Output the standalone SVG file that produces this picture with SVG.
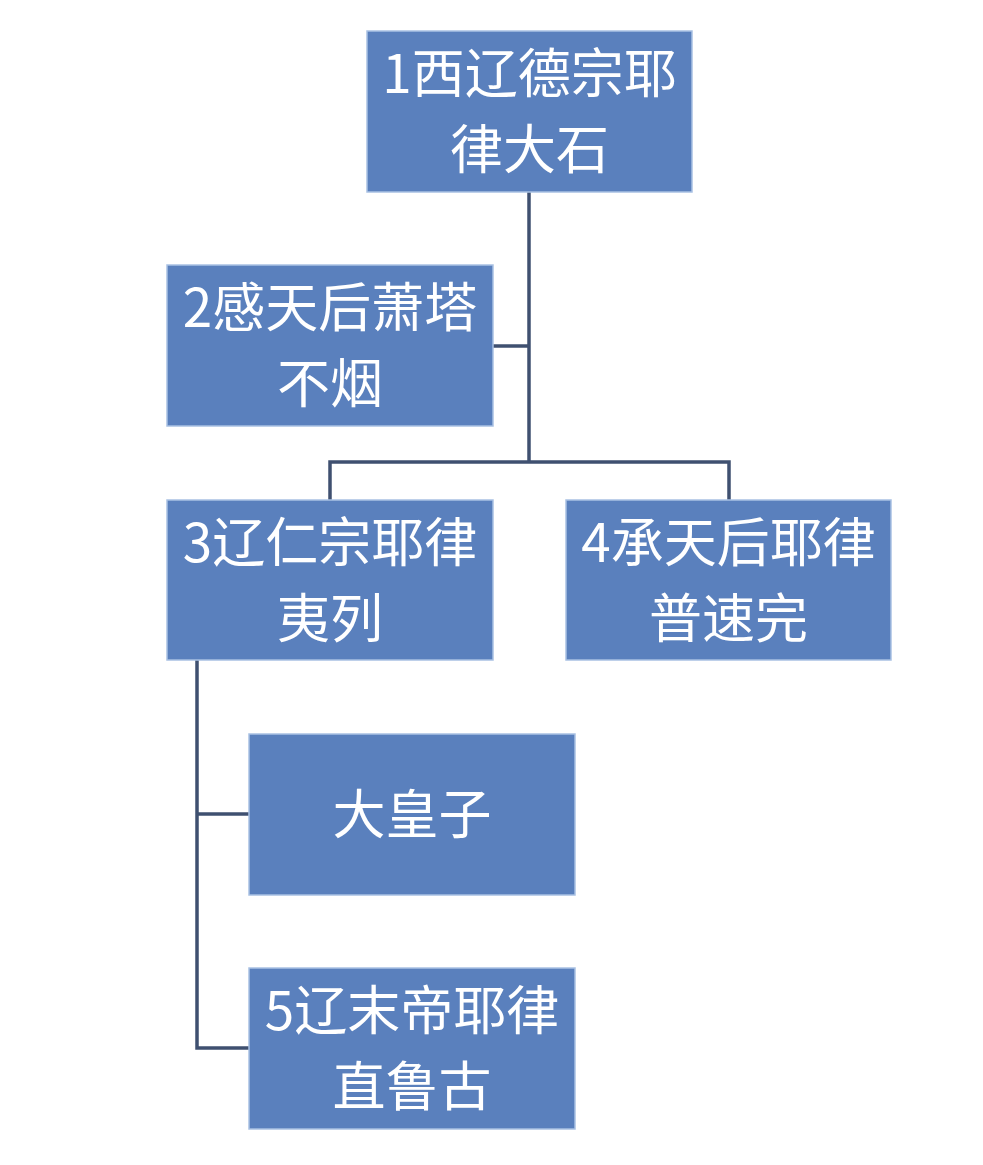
<svg xmlns="http://www.w3.org/2000/svg" width="983" height="1165" viewBox="0 0 983 1165">
<style>
.box{fill:#5a80bd;stroke:#a9c1e3;stroke-width:1.5}
.t{fill:#ffffff;font-family:"Noto Sans CJK SC","Noto Sans",sans-serif;font-size:53px;text-anchor:middle}
.ln{stroke:#3f5070;stroke-width:3.5;fill:none}
</style>
<rect width="983" height="1165" fill="#ffffff"/>
<g id="connectors">
<path class="ln" d="M529 192 V463"/>
<path class="ln" d="M493 346 H529"/>
<path class="ln" d="M330 500 V462 H729 V500"/>
<path class="ln" d="M197 660 V1048 H249"/>
<path class="ln" d="M197 814 H249"/>
</g>
<g id="n1"><rect class="box" x="367" y="31" width="325" height="161"/><text class="t" x="529.5" y="93">1西辽德宗耶</text><text class="t" x="529.5" y="169">律大石</text></g>
<g id="n2"><rect class="box" x="167" y="265" width="326" height="161"/><text class="t" x="330" y="327">2感天后萧塔</text><text class="t" x="330" y="403">不烟</text></g>
<g id="n3"><rect class="box" x="167" y="500" width="326" height="160"/><text class="t" x="330" y="562">3辽仁宗耶律</text><text class="t" x="330" y="638">夷列</text></g>
<g id="n4"><rect class="box" x="566" y="500" width="325" height="160"/><text class="t" x="728.5" y="562">4承天后耶律</text><text class="t" x="728.5" y="638">普速完</text></g>
<g id="n6"><rect class="box" x="249" y="734" width="326" height="161"/><text class="t" x="412" y="834">大皇子</text></g>
<g id="n5"><rect class="box" x="249" y="968" width="326" height="161"/><text class="t" x="412" y="1030">5辽末帝耶律</text><text class="t" x="412" y="1106">直鲁古</text></g>
</svg>
